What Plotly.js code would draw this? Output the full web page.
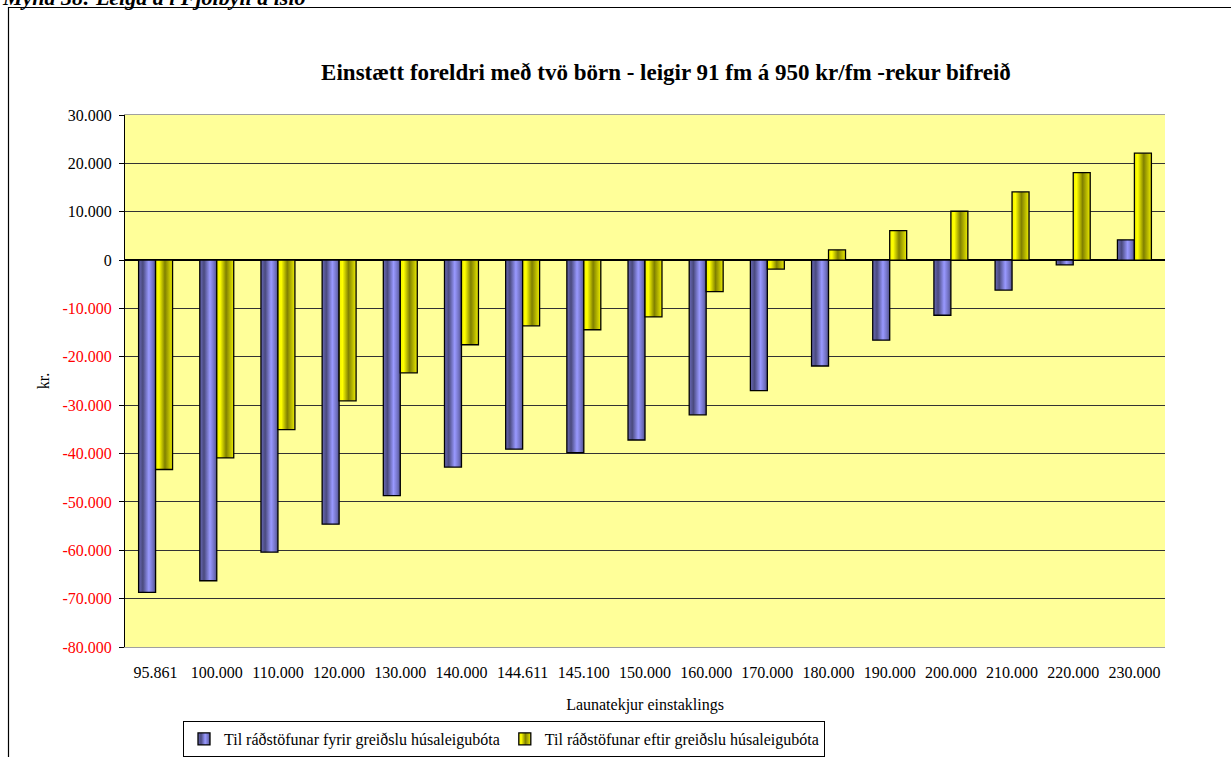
<!DOCTYPE html>
<html>
<head>
<meta charset="utf-8">
<script src="https://cdn.plot.ly/plotly-3.0.1.min.js"></script>
<style>html,body{margin:0;padding:0;background:#fff;}#chart{width:1231px;height:757px;}</style>
</head>
<body>
<div id="chart"></div>
<script>
const categories = ["95.861","100.000","110.000","120.000","130.000","140.000","144.611","145.100","150.000","160.000","170.000","180.000","190.000","200.000","210.000","220.000","230.000"];
const fyrir = [-68700,-66300,-60400,-54600,-48700,-42800,-39100,-39800,-37200,-32000,-27000,-21900,-16550,-11400,-6200,-1000,4200];
const eftir = [-43300,-40900,-35050,-29100,-23300,-17500,-13600,-14400,-11750,-6500,-1860,2100,6100,10100,14100,18100,22100];
const seriesNames = ["Til ráðstöfunar fyrir greiðslu húsaleigubóta","Til ráðstöfunar eftir greiðslu húsaleigubóta"];
const yTickVals = [30000,20000,10000,0,-10000,-20000,-30000,-40000,-50000,-60000,-70000,-80000];
const yTickText = ["30.000","20.000","10.000","0","-10.000","-20.000","-30.000","-40.000","-50.000","-60.000","-70.000","-80.000"];
const chartTitle = "Einstætt foreldri með tvö börn - leigir 91 fm á 950 kr/fm -rekur bifreið";
const xTitle = "Launatekjur einstaklings";
const yTitle = "kr.";
const caption = "Mynd 38: Leiga á í Fjölbýli á íslo";

const font = "Liberation Serif";
const ticktextColored = yTickText.map((t,i)=> yTickVals[i] < 0 ? '<span style="color:#FF0000">'+t+'</span>' : t);

const traces = [
  {type:'bar', x:categories, y:fyrir, name:seriesNames[0], marker:{color:'#7777CC', line:{color:'#000000', width:1.3}}},
  {type:'bar', x:categories, y:eftir, name:seriesNames[1], marker:{color:'#CCCC00', line:{color:'#000000', width:1.3}}}
];

const pxX = p => (p-125)/1040;
const pxY = p => (647-p)/532;

const layout = {
  width:1231, height:757,
  margin:{l:125, r:66, t:115, b:110, autoexpand:false},
  paper_bgcolor:'#FFFFFF',
  plot_bgcolor:'#FFFF99',
  font:{family:font, size:16, color:'#000'},
  barmode:'group',
  bargap:0.445,
  bargroupgap:0,
  title:{text:'<b>'+chartTitle+'</b>', font:{family:font, size:23, color:'#000'}, x:0.541, xanchor:'center', y:1-72/757, yanchor:'middle', xref:'container', yref:'container'},
  xaxis:{type:'category', automargin:false, showgrid:false, zeroline:false, showline:true, linecolor:'#A0A0A0', linewidth:1, mirror:true, ticks:'', ticklen:0, ticklabelstandoff:11,
         tickfont:{family:font, size:16, color:'#000'},
         title:{text:xTitle, font:{family:font, size:16, color:'#000'}, standoff:18}, fixedrange:true},
  yaxis:{range:[-80000,30000], automargin:false, tickvals:yTickVals, ticktext:ticktextColored, showgrid:true, gridcolor:'#333333', gridwidth:1,
         zeroline:true, zerolinecolor:'#000', zerolinewidth:1.3, showline:true, linecolor:'#000', linewidth:1, ticks:'outside', ticklen:5, tickcolor:'#000', ticklabelstandoff:4,
         tickfont:{family:font, size:16}, title:{text:yTitle, font:{family:font, size:16}, standoff:8}},
  showlegend:true,
  legend:{orientation:'h', x:pxX(183), y:pxY(721), xanchor:'left', yanchor:'top', bgcolor:'#FFFFFF', bordercolor:'#000', borderwidth:1,
          font:{family:font, size:16}, itemwidth:20, tracegroupgap:0, traceorder:'normal'},
  shapes:[
    {type:'path', xref:'paper', yref:'paper', path:'M '+pxX(8.5)+' '+pxY(760)+' L '+pxX(8.5)+' '+pxY(7.5)+' L '+pxX(1240)+' '+pxY(7.5), line:{color:'#000', width:1.2}}
  ],
  annotations:[
    {xref:'paper', yref:'paper', x:pxX(0), y:pxY(-3), xanchor:'left', yanchor:'middle', text:'<b><i>'+caption+'</i></b>', showarrow:false, font:{family:font, size:22, color:'#000'}}
  ]
};

Plotly.newPlot('chart', traces, layout, {displayModeBar:false, staticPlot:true}).then(function(gd){
  const svg = gd.querySelector('.main-svg');
  let defs = svg.querySelector('defs');
  const NS = 'http://www.w3.org/2000/svg';
  function grad(id, stops){
    const g = document.createElementNS(NS,'linearGradient');
    g.setAttribute('id', id); g.setAttribute('x1','0'); g.setAttribute('x2','1'); g.setAttribute('y1','0'); g.setAttribute('y2','0');
    stops.forEach(s=>{const st=document.createElementNS(NS,'stop'); st.setAttribute('offset',s[0]); st.setAttribute('stop-color',s[1]); g.appendChild(st);});
    defs.appendChild(g);
  }
  grad('gBlue', [['0','#6A6AB8'],['0.25','#4A4A7E'],['0.6','#9999FF'],['0.85','#7070C0'],['1','#505088']]);
  grad('gYel', [['0','#F0F000'],['0.2','#FFFF00'],['0.55','#808000'],['0.85','#C8C800'],['1','#F0F000']]);
  const ids = ['gBlue','gYel'];
  gd.querySelectorAll('.barlayer .trace').forEach((t,i)=>{
    t.querySelectorAll('path').forEach(p=>{p.style.fill='url(#'+ids[i]+')';});
  });
  gd.querySelectorAll('.legend .traces').forEach((t,i)=>{
    t.querySelectorAll('.legendpoints path').forEach(p=>{p.style.fill='url(#'+ids[i]+')';});
  });
});
</script>
</body>
</html>
